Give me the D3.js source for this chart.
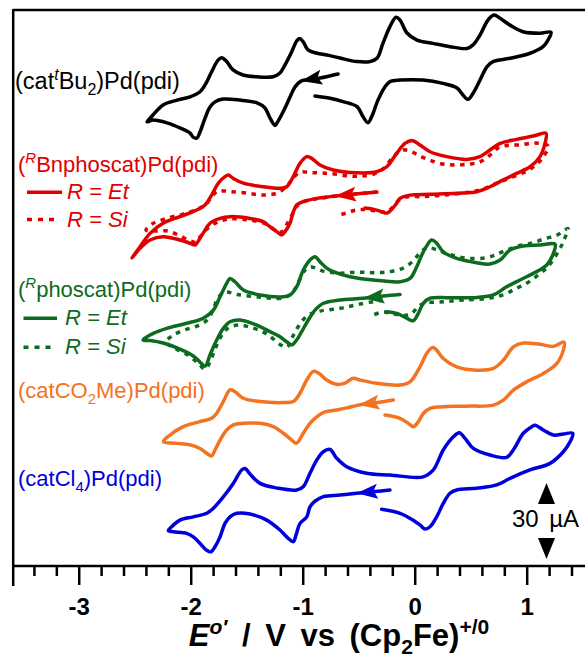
<!DOCTYPE html>
<html>
<head>
<meta charset="utf-8">
<script src="https://cdn.jsdelivr.net/npm/d3@7/dist/d3.min.js"></script>
<style>
  html, body { margin: 0; padding: 0; background: #fff; }
  svg { display: block; }
</style>
</head>
<body>
<div id="chart"></div>
<script>
// Cyclic voltammograms of (cat)Pd(pdi) complexes, stacked with vertical offsets.
// Each trace: [E (V vs Cp2Fe+/0), current (uA, relative to the trace offset)].

const blackCV = [
  [-0.685,14.6],[-0.846,13.0],[-1.015,11.8],[-1.069,9.5],[-1.113,5.5],[-1.176,-0.4],[-1.229,-4.7],[-1.247,-5.7],
  [-1.292,-2.8],[-1.337,1.2],[-1.408,3.2],[-1.560,4.3],[-1.712,4.7],[-1.783,3.6],[-1.828,1.6],[-1.872,-2.8],
  [-1.917,-8.3],[-1.946,-10.7],[-1.979,-10.3],[-2.006,-8.7],[-2.096,-6.7],[-2.212,-4.7],[-2.337,-3.6],[-2.390,-4.3],
  [-2.337,-1.6],[-2.247,2.4],[-2.122,4.3],[-2.006,5.6],[-1.917,7.6],[-1.872,10.3],[-1.813,15.5],[-1.756,20.1],
  [-1.723,21.0],[-1.679,19.5],[-1.622,16.2],[-1.533,14.2],[-1.413,13.5],[-1.265,13.5],[-1.203,15.0],[-1.158,18.2],
  [-1.098,23.4],[-1.054,27.6],[-1.029,28.6],[-0.997,27.4],[-0.953,24.1],[-0.872,22.8],[-0.783,22.1],[-0.667,20.9],
  [-0.515,19.5],[-0.399,19.5],[-0.337,20.8],[-0.283,26.8],[-0.221,33.3],[-0.167,37.0],[-0.131,35.9],[-0.069,30.8],
  [0.021,28.0],[0.163,26.7],[0.315,25.4],[0.467,24.7],[0.521,26.1],[0.583,30.0],[0.654,35.9],[0.708,37.9],
  [0.762,36.6],[0.851,33.9],[0.967,31.3],[1.119,30.7],[1.217,31.1],[1.190,28.0],[1.146,25.4],[1.030,22.8],
  [0.851,20.8],[0.699,19.5],[0.646,17.5],[0.583,12.2],[0.521,7.0],[0.476,4.6],[0.431,6.3],[0.378,9.1],
  [0.253,10.9],[0.074,12.2],[-0.131,12.2],[-0.221,11.6],[-0.265,9.6],[-0.328,4.3],[-0.384,-2.2],[-0.417,-4.6],
  [-0.462,-2.2],[-0.515,1.7],[-0.640,3.7],[-0.756,5.0],[-0.890,5.9]
];

const redEtCV = [
  [-0.337,13.0],[-0.533,12.2],[-0.756,11.2],[-0.875,10.5],[-0.997,9.2],[-1.054,7.9],[-1.087,4.7],[-1.113,0.8],
  [-1.158,-2.6],[-1.188,-3.9],[-1.232,-2.6],[-1.292,-0.7],[-1.354,1.3],[-1.471,2.6],[-1.649,3.3],[-1.738,2.6],
  [-1.828,0.7],[-1.890,-3.3],[-1.946,-7.2],[-1.962,-7.9],[-2.006,-7.2],[-2.096,-5.9],[-2.247,-4.6],[-2.363,-5.9],
  [-2.453,-9.2],[-2.524,-13.0],[-2.453,-8.6],[-2.363,-3.3],[-2.247,0.7],[-2.096,3.3],[-1.946,5.9],[-1.872,7.9],
  [-1.813,11.8],[-1.754,16.5],[-1.694,19.1],[-1.664,19.7],[-1.620,18.4],[-1.530,16.5],[-1.352,15.1],[-1.203,14.5],
  [-1.143,15.1],[-1.084,19.1],[-1.024,24.4],[-0.964,27.0],[-0.920,26.3],[-0.846,23.7],[-0.727,21.7],[-0.518,20.6],
  [-0.339,21.0],[-0.250,23.0],[-0.161,28.3],[-0.087,32.2],[-0.018,33.3],[0.047,31.6],[0.137,28.9],[0.286,27.0],
  [0.464,25.9],[0.583,27.0],[0.672,29.6],[0.762,32.2],[0.911,33.8],[1.059,35.1],[1.172,36.2],[1.163,32.2],
  [1.119,27.0],[1.030,23.0],[0.911,20.4],[0.791,17.8],[0.672,15.1],[0.554,13.1],[0.375,12.5],[0.137,12.1],
  [-0.042,11.8],[-0.131,10.5],[-0.161,8.6],[-0.212,5.9],[-0.247,4.7],[-0.310,5.5],[-0.381,6.3],[-0.444,6.7]
];

const redSiCV = [
  [-0.337,13.0],[-0.756,11.1],[-0.997,9.1],[-1.060,7.1],[-1.096,3.9],[-1.140,0.4],[-1.176,-2.4],[-1.210,-2.8],
  [-1.274,-1.2],[-1.354,0.8],[-1.488,2.0],[-1.649,2.4],[-1.756,1.2],[-1.846,-1.2],[-1.917,-4.7],[-1.953,-6.7],
  [-2.006,-6.3],[-2.096,-4.3],[-2.203,-2.4],[-2.310,-2.4],[-2.399,-2.0],[-2.346,0.4],[-2.230,2.4],[-2.069,4.3],
  [-1.935,6.3],[-1.853,8.7],[-1.808,11.4],[-1.756,13.4],[-1.649,13.2],[-1.498,12.6],[-1.354,11.8],[-1.229,12.6],
  [-1.140,15.4],[-1.078,18.9],[-1.024,20.9],[-0.935,20.7],[-0.828,20.5],[-0.712,20.1],[-0.578,19.3],[-0.471,19.3],
  [-0.364,20.1],[-0.274,22.5],[-0.194,26.8],[-0.113,29.6],[-0.042,29.2],[0.029,27.6],[0.119,25.9],[0.226,24.3],
  [0.360,23.7],[0.494,24.1],[0.583,24.9],[0.672,27.6],[0.744,30.4],[0.824,31.4],[0.940,31.6],[1.074,32.4],
  [1.191,31.2],[1.146,26.8],[1.092,24.1],[0.985,20.9],[0.851,18.6],[0.717,16.2],[0.583,13.8],[0.431,12.6],
  [0.253,11.8],[0.074,11.2],[-0.069,11.1],[-0.149,9.5],[-0.203,6.7],[-0.256,5.1],[-0.337,5.5],[-0.435,6.1],
  [-0.524,5.9],[-0.613,4.7],[-0.703,3.6]
];

const greenEtCV = [
  [-0.131,12.6],[-0.283,12.0],[-0.459,11.1],[-0.667,10.4],[-0.816,9.1],[-0.890,6.4],[-0.950,2.5],[-1.009,-2.1],
  [-1.054,-5.4],[-1.098,-7.4],[-1.143,-6.1],[-1.203,-4.1],[-1.292,-2.1],[-1.411,0.5],[-1.560,2.5],[-1.649,1.8],
  [-1.709,-0.8],[-1.768,-5.4],[-1.828,-11.3],[-1.872,-15.7],[-1.917,-14.1],[-1.977,-11.7],[-2.096,-9.0],[-2.245,-6.6],
  [-2.363,-5.6],[-2.426,-5.4],[-2.334,-2.8],[-2.214,-0.8],[-2.036,1.2],[-1.888,3.2],[-1.798,6.4],[-1.738,11.7],
  [-1.679,17.0],[-1.649,18.9],[-1.605,17.6],[-1.530,14.3],[-1.381,12.4],[-1.173,11.7],[-1.113,12.4],[-1.054,15.6],
  [-0.995,22.2],[-0.935,26.2],[-0.890,27.5],[-0.846,25.5],[-0.786,23.0],[-0.727,21.6],[-0.578,19.6],[-0.370,18.3],
  [-0.131,17.6],[-0.042,18.9],[0.018,23.5],[0.077,29.4],[0.152,34.1],[0.196,32.8],[0.255,29.4],[0.375,26.8],
  [0.554,25.1],[0.672,24.6],[0.762,26.2],[0.851,30.1],[0.970,31.7],[1.119,32.1],[1.253,32.4],[1.238,28.8],
  [1.179,24.2],[1.059,20.9],[0.940,18.3],[0.821,15.6],[0.702,12.4],[0.554,11.4],[0.315,11.3],[0.137,11.1],
  [0.077,9.1],[0.032,5.1],[-0.013,2.2],[-0.071,3.2],[-0.161,5.1],[-0.250,5.8]
];

const greenSiCV = [
  [-0.283,10.4],[-0.488,8.8],[-0.667,7.1],[-0.846,6.0],[-0.962,4.1],[-1.042,-0.3],[-1.096,-4.6],[-1.140,-8.2],
  [-1.194,-7.4],[-1.274,-4.6],[-1.354,-2.2],[-1.471,-0.3],[-1.578,0.5],[-1.667,-0.7],[-1.738,-4.6],[-1.792,-10.1],
  [-1.837,-14.9],[-1.872,-16.9],[-1.935,-14.5],[-2.024,-11.3],[-2.131,-8.9],[-2.221,-6.2],[-2.167,-3.8],[-2.060,-1.5],
  [-1.944,0.1],[-1.854,2.5],[-1.801,6.4],[-1.756,11.2],[-1.694,13.5],[-1.587,12.6],[-1.444,11.8],[-1.310,11.2],
  [-1.176,11.2],[-1.096,13.1],[-1.033,17.9],[-0.979,22.2],[-0.926,23.4],[-0.819,21.8],[-0.667,21.0],[-0.515,21.4],
  [-0.372,21.2],[-0.221,21.6],[-0.104,23.0],[-0.024,25.4],[0.047,29.0],[0.110,31.0],[0.199,30.2],[0.288,28.7],
  [0.387,27.5],[0.494,26.8],[0.628,27.0],[0.717,28.1],[0.797,29.7],[0.940,31.9],[1.056,33.0],[1.154,34.5],
  [1.271,36.0],[1.369,38.6],[1.333,34.1],[1.297,30.7],[1.235,26.2],[1.172,22.8],[1.101,20.2],[1.003,17.1],
  [0.904,14.9],[0.788,12.4],[0.646,11.0],[0.431,10.4],[0.253,9.7],[0.074,9.0],[0.021,7.2],[-0.033,4.9],
  [-0.104,4.3],[-0.203,5.1],[-0.283,5.6],[-0.372,4.5]
];

const orangeCV = [
  [-0.191,10.9],[-0.328,9.9],[-0.503,8.9],[-0.607,7.8],[-0.696,7.0],[-0.801,6.2],[-0.875,4.3],[-0.935,1.7],
  [-0.995,-2.2],[-1.039,-5.5],[-1.060,-6.2],[-1.098,-4.9],[-1.173,-2.2],[-1.262,0.4],[-1.381,1.7],[-1.530,1.7],
  [-1.619,1.1],[-1.679,-0.9],[-1.738,-4.9],[-1.783,-8.8],[-1.813,-11.2],[-1.857,-10.1],[-1.917,-8.2],[-2.006,-6.8],
  [-2.125,-6.2],[-2.244,-5.5],[-2.185,-2.9],[-2.066,0.4],[-1.917,2.4],[-1.813,3.7],[-1.768,5.7],[-1.709,10.3],
  [-1.649,14.9],[-1.605,14.2],[-1.530,11.6],[-1.381,10.3],[-1.173,9.9],[-1.084,10.3],[-1.024,13.6],[-0.964,18.8],
  [-0.905,22.2],[-0.860,21.6],[-0.786,18.8],[-0.697,17.1],[-0.622,17.6],[-0.548,19.5],[-0.488,18.8],[-0.339,17.5],
  [-0.131,16.8],[-0.042,18.1],[0.047,24.0],[0.107,29.3],[0.160,31.6],[0.196,30.6],[0.255,27.3],[0.375,24.0],
  [0.554,22.7],[0.702,23.4],[0.791,26.6],[0.881,31.9],[0.970,33.4],[1.119,32.9],[1.238,32.1],[1.333,33.8],
  [1.327,30.6],[1.268,25.3],[1.149,21.4],[1.000,18.1],[0.881,14.8],[0.791,10.9],[0.702,8.9],[0.464,8.5],
  [0.226,8.2],[0.137,7.6],[0.077,5.6],[0.033,2.4],[-0.012,0.4],[-0.057,1.7],[-0.131,3.7],[-0.265,5.0]
];

const blueCV = [
  [-0.221,10.4],[-0.354,9.8],[-0.518,9.1],[-0.667,8.4],[-0.816,7.8],[-0.890,6.0],[-0.935,3.7],[-0.964,-0.2],
  [-1.024,-2.8],[-1.060,-7.4],[-1.084,-10.0],[-1.129,-8.7],[-1.203,-5.4],[-1.321,-1.5],[-1.471,0.9],[-1.589,1.2],
  [-1.649,-0.2],[-1.694,-2.8],[-1.738,-8.1],[-1.783,-12.0],[-1.819,-14.0],[-1.857,-13.4],[-1.917,-10.7],[-1.977,-8.1],
  [-2.036,-6.7],[-2.155,-6.1],[-2.200,-5.7],[-2.170,-4.1],[-2.096,-1.5],[-1.977,-0.2],[-1.857,1.2],[-1.798,3.2],
  [-1.709,7.7],[-1.620,13.0],[-1.545,18.3],[-1.515,18.9],[-1.471,16.7],[-1.381,13.0],[-1.221,11.1],[-1.054,10.4],
  [-0.995,11.7],[-0.935,17.0],[-0.875,22.2],[-0.816,25.5],[-0.756,26.4],[-0.696,22.9],[-0.607,19.6],[-0.429,17.0],
  [-0.221,16.3],[0.077,15.6],[0.166,18.3],[0.255,26.2],[0.345,31.4],[0.398,33.0],[0.449,30.8],[0.523,26.8],
  [0.672,24.2],[0.821,23.3],[0.880,26.2],[0.970,32.8],[1.045,35.4],[1.074,36.0],[1.148,34.1],[1.238,32.1],
  [1.327,32.5],[1.411,32.8],[1.387,29.4],[1.327,25.5],[1.208,20.9],[1.029,18.3],[0.851,15.0],[0.732,12.4],
  [0.554,11.1],[0.375,10.4],[0.315,9.1],[0.255,5.1],[0.196,-0.2],[0.137,-4.1],[0.092,-5.0],[0.047,-3.4],
  [-0.013,-1.5],[-0.131,1.2],[-0.295,2.8]
];

// Initial scan direction arrows: [tail, tip] in (E, current) per trace
const blackArrow  = [[-0.685,14.6],[-1.015,11.8]];
const redArrow    = [[-0.337,13.0],[-0.712,11.4]];
const greenArrow  = [[-0.131,12.6],[-0.459,11.1]];
const orangeArrow = [[-0.191,10.9],[-0.503,8.9]];
const blueArrow   = [[-0.221,10.4],[-0.518,9.1]];

// Vertical offsets of the stacked traces (uA)
const traceOffsets = { black: 180, red: 135, green: 95, orange: 55, blue: 20 };

// Axis ticks (V)
const majorTicks = [-3, -2, -1, 0, 1];
const minorTicks = [-3.4, -3.2, -2.8, -2.6, -2.4, -2.2, -1.8, -1.6, -1.4, -1.2,
                    -0.8, -0.6, -0.4, -0.2, 0.2, 0.4, 0.6, 0.8, 1.2, 1.4];
const tickLabels = ["-3", "-2", "-1", "0", "1"];

// Current scale bar (uA)
const scaleBarBase = 3.2;
const scaleBarSize = 30;

const COLORS = { black: "#000000", red: "#e00000", green: "#0c6b1e", orange: "#f37321", blue: "#0000dc" };
const FONT = "'Liberation Sans', Arial, Helvetica, sans-serif";

const W = 585, H = 660;
const svg = d3.select("#chart").append("svg").attr("width", W).attr("height", H);

const x = d3.scaleLinear().domain([-3.585, 1.5]).range([13.2, 582.7]);
const y = d3.scaleLinear().domain([0, 220]).range([567, 567 - 220 * 76 / 30]);

// Frame: top edge and left edge
svg.append("line").attr("x1", x(-3.585)).attr("x2", W + 5).attr("y1", 10).attr("y2", 10)
  .attr("stroke", "#000").attr("stroke-width", 2.5);
svg.append("line").attr("x1", x(-3.585)).attr("x2", x(-3.585)).attr("y1", 9).attr("y2", 586)
  .attr("stroke", "#000").attr("stroke-width", 2.5);

// Bottom axis
const axisY = 566;
const gAxis = svg.append("g").attr("transform", `translate(0,${axisY})`);
gAxis.append("line").attr("x1", x(-3.585)).attr("x2", W + 5).attr("y1", 0).attr("y2", 0)
  .attr("stroke", "#000").attr("stroke-width", 2.5);
const minorAxis = d3.axisBottom(x).tickValues(minorTicks).tickSize(10).tickFormat("");
const majorAxis = d3.axisBottom(x).tickValues(majorTicks).tickSize(19)
  .tickFormat((d, i) => tickLabels[i]);
const gMinor = gAxis.append("g").call(minorAxis);
const gMajor = gAxis.append("g").call(majorAxis);
[gMinor, gMajor].forEach(g => {
  g.select(".domain").remove();
  g.selectAll(".tick line").attr("stroke", "#000").attr("stroke-width", 2.5);
});
gMajor.selectAll(".tick text")
  .attr("y", 49).attr("dy", null)
  .attr("font-family", FONT).attr("font-size", 24).attr("font-weight", "bold").attr("fill", "#000");

// Rich text helper (super/subscripts)
function richText(x0, y0, parts, opt) {
  const t = svg.append("text").attr("x", x0).attr("y", y0)
    .attr("font-family", FONT).attr("font-size", opt.size).attr("fill", opt.color)
    .attr("font-weight", opt.bold ? "bold" : "normal")
    .attr("text-anchor", opt.anchor || "start");
  if (opt.wordSpacing) t.attr("word-spacing", opt.wordSpacing);
  let shift = 0;
  parts.forEach(p => {
    const target = p.sup ? -0.4 * opt.size : (p.sub ? 0.25 * opt.size : 0);
    const ts = t.append("tspan").attr("dy", target - shift).text(p.t);
    shift = target;
    if (p.sup || p.sub) ts.attr("font-size", opt.size * 0.68);
    if (p.italic) ts.attr("font-style", "italic");
  });
  return t;
}

// Axis title
richText(339, 646, [
  { t: "E", italic: true }, { t: "o\u2032", sup: true, italic: true },
  { t: " / V vs (Cp" }, { t: "2", sub: true }, { t: "Fe)" }, { t: "+/0", sup: true }
], { size: 31, color: "#000", bold: true, anchor: "middle", wordSpacing: 6 });

// Traces
function drawTrace(data, offset, color, dotted) {
  const line = d3.line()
    .x(d => x(d[0]))
    .y(d => y(d[1] + offset))
    .curve(d3.curveCatmullRom.alpha(0.5));
  svg.append("path").datum(data).attr("d", line)
    .attr("fill", "none").attr("stroke", color).attr("stroke-width", 3.5)
    .attr("stroke-linejoin", "round")
    .attr("stroke-linecap", dotted ? "butt" : "round")
    .attr("stroke-dasharray", dotted ? "4.5,5.5" : null);
}

function drawArrow(arrow, offset, color) {
  const [t0, t1] = arrow;
  const x0 = x(t0[0]), y0 = y(t0[1] + offset), x1 = x(t1[0]), y1 = y(t1[1] + offset);
  const ang = Math.atan2(y1 - y0, x1 - x0);
  const L = 21, Wd = 7.5;
  const bx = x1 - L * Math.cos(ang), by = y1 - L * Math.sin(ang);
  const px = -Math.sin(ang) * Wd, py = Math.cos(ang) * Wd;
  svg.append("path")
    .attr("d", `M${x1},${y1}L${bx + px},${by + py}L${bx + px * 0.1 + 4 * Math.cos(ang)},${by + py * 0.1 + 4 * Math.sin(ang)}L${bx - px},${by - py}Z`)
    .attr("fill", color).attr("stroke", "none");
}

drawTrace(blackCV, traceOffsets.black, COLORS.black, false);
drawArrow(blackArrow, traceOffsets.black, COLORS.black);

drawTrace(redSiCV, traceOffsets.red, COLORS.red, true);
drawTrace(redEtCV, traceOffsets.red, COLORS.red, false);
drawArrow(redArrow, traceOffsets.red, COLORS.red);

drawTrace(greenSiCV, traceOffsets.green, COLORS.green, true);
drawTrace(greenEtCV, traceOffsets.green, COLORS.green, false);
drawArrow(greenArrow, traceOffsets.green, COLORS.green);

drawTrace(orangeCV, traceOffsets.orange, COLORS.orange, false);
drawArrow(orangeArrow, traceOffsets.orange, COLORS.orange);

drawTrace(blueCV, traceOffsets.blue, COLORS.blue, false);
drawArrow(blueArrow, traceOffsets.blue, COLORS.blue);

// Labels
const LS = 22;
richText(15, 89, [{ t: "(cat" }, { t: "t", sup: true, italic: true }, { t: "Bu" }, { t: "2", sub: true }, { t: ")Pd(pdi)" }],
  { size: 23.5, color: COLORS.black });

richText(18, 172, [{ t: "(" }, { t: "R", sup: true, italic: true }, { t: "Bnphoscat)Pd(pdi)" }],
  { size: LS, color: COLORS.red });
svg.append("line").attr("x1", 27).attr("x2", 62).attr("y1", 192.3).attr("y2", 192.3)
  .attr("stroke", COLORS.red).attr("stroke-width", 3.5);
svg.append("line").attr("x1", 27).attr("x2", 54).attr("y1", 219.5).attr("y2", 219.5)
  .attr("stroke", COLORS.red).attr("stroke-width", 3.5).attr("stroke-dasharray", "5,6");
richText(67, 199, [{ t: "R = Et", italic: true }], { size: LS, color: COLORS.red });
richText(67, 227, [{ t: "R = Si", italic: true }], { size: LS, color: COLORS.red });

richText(18, 297, [{ t: "(" }, { t: "R", sup: true, italic: true }, { t: "phoscat)Pd(pdi)" }],
  { size: LS, color: COLORS.green });
svg.append("line").attr("x1", 23.5).attr("x2", 57).attr("y1", 318.3).attr("y2", 318.3)
  .attr("stroke", COLORS.green).attr("stroke-width", 3.5);
svg.append("line").attr("x1", 23.5).attr("x2", 52).attr("y1", 347.3).attr("y2", 347.3)
  .attr("stroke", COLORS.green).attr("stroke-width", 3.5).attr("stroke-dasharray", "5,6");
richText(65, 325, [{ t: "R = Et", italic: true }], { size: LS, color: COLORS.green });
richText(65, 353.5, [{ t: "R = Si", italic: true }], { size: LS, color: COLORS.green });

richText(18, 398, [{ t: "(catCO" }, { t: "2", sub: true }, { t: "Me)Pd(pdi)" }],
  { size: LS, color: COLORS.orange });

richText(18, 486, [{ t: "(catCl" }, { t: "4", sub: true }, { t: ")Pd(pdi)" }],
  { size: LS, color: COLORS.blue });

// 30 uA scale bar: two triangles spanning scaleBarSize
const sbX = 546.5;
const sbTop = y(scaleBarBase + scaleBarSize), sbBot = y(scaleBarBase);
svg.append("path").attr("d", `M${sbX},${sbTop}L${sbX + 8.5},${sbTop + 21}L${sbX - 8.5},${sbTop + 21}Z`).attr("fill", "#000");
svg.append("path").attr("d", `M${sbX},${sbBot}L${sbX + 8.5},${sbBot - 21}L${sbX - 8.5},${sbBot - 21}Z`).attr("fill", "#000");
svg.append("text").attr("x", sbX - 1).attr("y", 527).attr("text-anchor", "middle")
  .attr("font-family", FONT).attr("font-size", 24).attr("word-spacing", 4).attr("fill", "#000")
  .text(scaleBarSize + " \u00b5A");
</script>
</body>
</html>
